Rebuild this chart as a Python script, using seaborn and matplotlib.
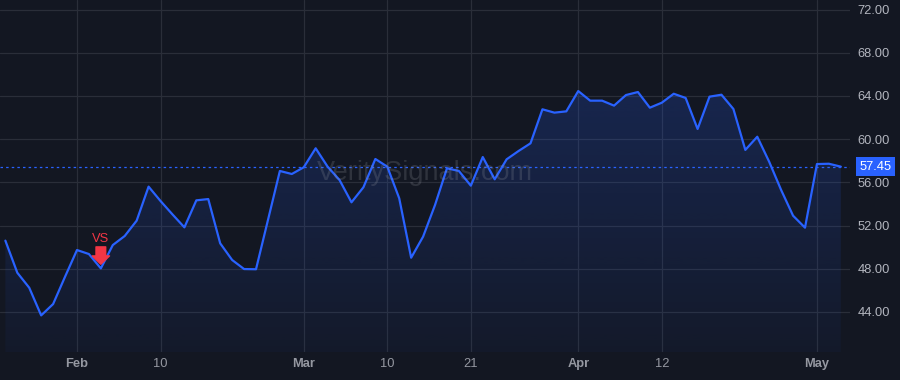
import matplotlib
matplotlib.use("Agg")
import matplotlib.pyplot as plt
from matplotlib.colors import to_rgb
from matplotlib.patches import PathPatch
import numpy as np
import pandas as pd
import seaborn as sns

# closing prices, one per trading day (Jan 24 .. May 3)
values = [
    50.6, 47.63, 46.24, 43.68, 44.73, 47.26, 49.73, 49.36, 48.03, 50.19,
    51.03, 52.45, 55.6, 54.27, 53.03, 51.83, 54.33, 54.45, 50.35, 48.81,
    47.97, 47.95, 52.5, 57.05, 56.77, 57.39, 59.15, 57.45, 56.21, 54.15,
    55.54, 58.16, 57.45, 54.52, 49.02, 50.97, 53.9, 57.3, 57.05, 55.69,
    58.34, 56.28, 58.13, 58.9, 59.61, 62.76, 62.45, 62.57, 64.45, 63.56,
    63.56, 63.1, 64.08, 64.36, 62.91, 63.37, 64.2, 63.81, 60.94, 63.93,
    64.11, 62.79, 59.0, 60.22, 57.9, 55.29, 52.91, 51.8, 57.69, 57.72,
    57.45,
]
tick_idx = [6, 13, 25, 32, 39, 48, 55, 68]
tick_labels = ["Feb", "10", "Mar", "10", "21", "Apr", "12", "May"]
price_ticks = [44, 48, 52, 56, 60, 64, 68, 72]
signal_idx = 8
signal_label = "VS"
watermark = "VeritySignals.com"

BG = "#131722"
GRID = "#2a2e39"
LINE = "#2962ff"
TXT = "#b2b5be"
RED = "#f23645"
FS = 9.3

df = pd.DataFrame({"idx": np.arange(len(values)), "close": values})
last = values[-1]

sns.set_theme(style="dark", rc={"axes.facecolor": BG, "figure.facecolor": BG})
plt.rcParams["font.family"] = ["Liberation Sans", "DejaVu Sans"]

fig = plt.figure(figsize=(9, 3.8), dpi=100)
ax = fig.add_axes([0, 28 / 380, 850 / 900, 352 / 380])
ax.set_facecolor(BG)

ymin, ymax = 40.29, 72.88
xmin, xmax = -0.45, 70.77

# gradient area under the line
poly = ax.fill_between(df["idx"], df["close"], ymin, color="none", lw=0)
clip = PathPatch(poly.get_paths()[0], transform=ax.transData, fc="none", ec="none")
ax.add_patch(clip)
n = 256
rgba = np.zeros((n, 1, 4))
rgba[..., :3] = to_rgb(LINE)
rgba[:, 0, 3] = np.linspace(0.04, 0.2, n)
im = ax.imshow(rgba, extent=[xmin, xmax, ymin, max(values)], origin="lower",
               aspect="auto", zorder=1, interpolation="bilinear")
im.set_clip_path(clip)

sns.lineplot(data=df, x="idx", y="close", ax=ax, color=LINE, lw=1.6, zorder=3)
ax.axhline(last, color=LINE, lw=0.9, ls=(0, (2, 2.5)), zorder=2)

ax.set_xlim(xmin, xmax)
ax.set_ylim(ymin, ymax)
ax.set_xticks(tick_idx)
ax.set_xticklabels(tick_labels)
for lab in ax.get_xticklabels():
    if not lab.get_text().isdigit():
        lab.set_fontweight("bold")
ax.set_yticks(price_ticks)
ax.set_yticklabels([f"{p:.2f}" for p in price_ticks])
ax.yaxis.tick_right()
ax.tick_params(axis="x", length=0, pad=4.5, labelsize=FS, labelcolor="#9598a1")
ax.tick_params(axis="y", length=0, pad=5.5, labelsize=FS, labelcolor=TXT)
ax.grid(True, color=GRID, lw=0.9)
ax.set_axisbelow(True)
for s in ax.spines.values():
    s.set_visible(False)
ax.set_xlabel("")
ax.set_ylabel("")

# last price tag
ax.text(1.011, last, f"{last:.2f}", transform=ax.get_yaxis_transform(),
        ha="left", va="center", color="white", fontsize=FS, clip_on=False,
        bbox=dict(boxstyle="square,pad=0.25", fc=LINE, ec="none"), zorder=5)

# signal marker
ax.annotate("", xy=(signal_idx, values[signal_idx]), xytext=(0, 15.5),
            textcoords="offset points",
            arrowprops=dict(arrowstyle="simple,head_length=0.6,head_width=1.25,tail_width=0.7",
                            mutation_scale=10, color=RED, shrinkA=0, shrinkB=3),
            zorder=6)
ax.annotate(signal_label, xy=(signal_idx, values[signal_idx]), xytext=(0, 21.5),
            textcoords="offset points", ha="center", va="center",
            color=RED, fontsize=FS, zorder=6)

ax.text(0.5, 0.508, watermark, transform=ax.transAxes, ha="center", va="center",
        fontsize=19.5, color="#9598a1", alpha=0.22, zorder=4)

fig.savefig("out.png", dpi=100, facecolor=BG)
